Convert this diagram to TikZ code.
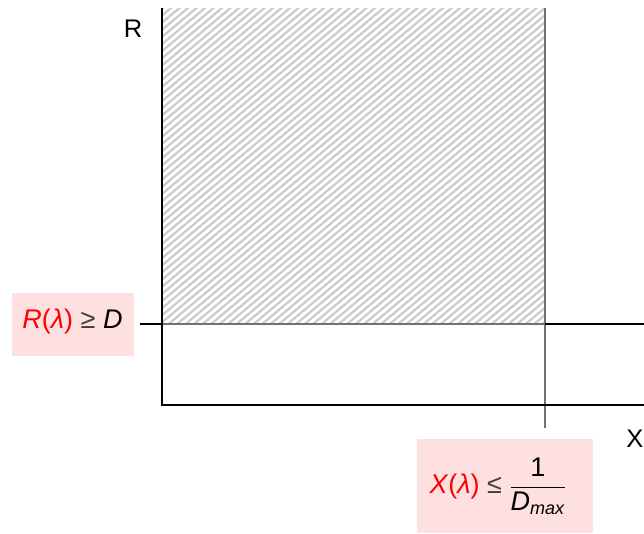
\documentclass[tikz,border=0pt]{standalone}
\usepackage{fontspec}
\setmainfont{Liberation Sans}
\usepackage{amsmath}
\begin{document}
\begin{tikzpicture}[x=1pt,y=-1pt,
  axis/.style={line width=1.1pt,black},
  edge/.style={line width=1.1pt,black!55},
  cond/.style={fill=red!12,draw=none,inner sep=0pt},
  condtext/.style={inner sep=0pt,font=\fontsize{27}{31}\selectfont},
  axlabel/.style={font=\fontsize{25.5}{29}\selectfont,inner sep=0pt},
  hatchline/.style={line width=2.3pt,black!20}]
\useasboundingbox (0,0) rectangle (644,533);
% hatched region
\begin{scope}
\clip (162,8) rectangle (545,324);
\foreach \i in {-400,-391.5,...,400}{
  \draw[hatchline] (162+\i,330) -- ++(393,-330);
}
\end{scope}
% coordinates
\coordinate (ytop) at (162,8);
\coordinate (origin) at (162,405);
\coordinate (xend) at (644,405);
\coordinate (dl) at (140,324);
\coordinate (hl) at (162,324);
\coordinate (dr) at (644,324);
\coordinate (vtop) at (545,8);
\coordinate (vt) at (545,324);
\coordinate (vb) at (545,428);
\draw[edge] (hl) -- (vt);
\draw[edge] (vtop) -- (vb);
\draw[axis] (dl) -- (hl);
\draw[axis] (vt) -- (dr);
\draw[axis] (ytop) -- (origin) -- (xend);
\node[axlabel] (R) at (133,29) {R};
\node[axlabel,anchor=east] (X) at (643.5,438.5) {X};
% condition boxes
\node[cond,minimum width=122pt,minimum height=63pt] (rbox) at (73,324.5) {};
\node[condtext] (rtext) at (72.5,322)
  {\textcolor{red}{\textit{R}(\textit{λ})} \textcolor{black!75}{≥} \textit{D}};
\node[cond,minimum width=176pt,minimum height=94pt] (xbox) at (505,486) {};
\node[condtext] (xtext) at (498,486)
  {\textcolor{red}{\textit{X}(\textit{λ})} \textcolor{black!75}{≤}
   $\dfrac{\mbox{\fontsize{27}{31}\selectfont 1}}{\mbox{\fontsize{27}{31}\selectfont\textit{D}}_{\mbox{\fontsize{18}{20}\selectfont\textit{max}}}}$};
\end{tikzpicture}
\end{document}
